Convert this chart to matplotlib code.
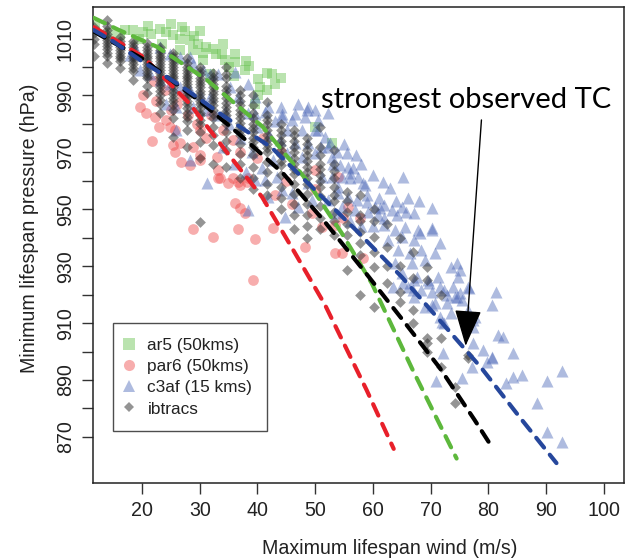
import matplotlib
matplotlib.use("Agg")
import matplotlib.pyplot as plt
from matplotlib.lines import Line2D

# ---------------- data ----------------
# ar5 (50kms) - green squares
ar5_v = [11.8, 16.2, 17.1, 18.4, 20.2, 21.0, 21.6, 23.1, 24.2, 25.0, 25.4, 26.6, 26.6, 27.5,
         28.3, 28.8, 29.0, 29.7, 30.5, 30.6, 31.1, 31.8, 32.3, 32.8, 33.8, 34.0, 34.4, 36.1,
         36.1, 37.8, 38.0, 40.1, 40.1, 42.5, 41.6, 39.5, 36.0, 49.9, 52.9, 43.0, 35.0, 23.5,
         19.5, 14.5, 41.6, 40.4, 38.5, 44.0, 27.0, 30.0]
ar5_p = [1014.5, 1011.3, 1013.0, 1013.1, 1012.4, 1014.5, 1011.7, 1013.4, 1012.4, 1015.0,
         1011.3, 1009.9, 1006.0, 1012.5, 1009.5, 1006.0, 1011.0, 1008.1, 1005.0, 1002.5,
         1007.1, 997.6, 1006.4, 1004.6, 1004.6, 1008.0, 1002.5, 1004.6, 1001.8, 999.0,
         1002.0, 995.8, 990.2, 997.6, 992.0, 987.0, 997.0, 979.0, 973.3, 994.0, 1000.0,
         1008.0, 1010.0, 1012.0, 998.0, 993.0, 1000.5, 996.0, 1014.0, 1012.5]

# par6 (50kms) - red circles
par6_v = [19.7, 20.2, 20.7, 21.7, 22.2, 22.5, 23.0, 24.2, 24.8, 25.0, 25.4, 25.7, 25.7, 26.6,
          26.7, 27.0, 28.3, 28.8, 28.8, 29.5, 30.0, 30.0, 31.0, 32.3, 33.0, 33.1, 33.5, 33.1,
          34.9, 35.7, 35.7, 36.1, 36.6, 36.6, 37.0, 37.0, 37.8, 38.3, 38.2, 39.2, 39.5, 40.0,
          42.7, 43.0, 45.0, 48.2, 49.4, 49.9, 51.1, 53.4, 53.4, 53.9, 54.6, 54.8, 55.6, 57.7,
          58.2, 22.0, 24.0, 26.0, 28.0, 30.0, 32.0, 34.0, 37.0, 41.0, 44.0, 46.0, 50.0]
par6_p = [986.0, 990.0, 983.9, 974.0, 982.5, 988.0, 979.0, 981.4, 979.0, 985.0, 972.6, 977.9,
          970.2, 973.3, 966.7, 990.0, 965.6, 971.9, 943.0, 980.0, 969.1, 967.4, 975.0, 940.3,
          968.4, 961.0, 961.0, 963.9, 959.3, 961.0, 974.4, 952.2, 959.6, 943.0, 950.5, 958.5,
          948.7, 961.0, 959.6, 925.2, 939.5, 968.0, 943.4, 955.0, 960.0, 936.7, 948.7, 963.9,
          943.8, 934.6, 944.4, 961.4, 934.6, 947.0, 950.8, 947.0, 932.8, 995.0, 992.0, 987.0,
          983.0, 978.0, 983.0, 978.0, 970.0, 975.0, 970.0, 952.0, 957.0]

# c3af (15 kms) - blue triangles
c3af_v = [53.7, 54.3, 55.6, 56.5, 54.6, 56.0, 57.4, 58.6, 61.7, 62.9, 65.2, 53.9, 55.6, 57.2,
          58.9, 60.3, 61.2, 62.0, 63.3, 65.0, 65.8, 67.2, 70.2, 56.9, 59.1, 60.8, 54.6, 64.1,
          62.0, 63.8, 65.5, 67.8, 70.2, 62.6, 65.0, 67.2, 64.3, 66.4, 68.4, 70.7, 63.8, 66.7,
          69.0, 73.6, 65.0, 67.6, 69.5, 71.2, 74.7, 76.4, 66.0, 68.4, 70.2, 72.4, 74.2, 70.7,
          72.9, 75.4, 67.2, 69.0, 73.6, 76.4, 71.9, 67.2,
          63.4, 65.2, 66.9, 69.8, 71.6, 72.8, 74.5, 73.8, 75.0, 81.4, 80.6, 70.3, 71.6, 72.4,
          77.3, 81.6, 82.5, 84.2, 79.0, 80.6, 77.1, 84.2, 85.9, 83.1, 92.8, 90.2, 71.0, 75.4,
          88.5, 90.1, 92.8, 72.1, 76.7, 77.6, 77.3, 77.3, 80.7, 79.7,
          33.0, 34.4, 38.3, 41.3, 44.2, 46.0, 48.2, 50.4, 52.2, 45.1, 47.7, 49.9, 51.7, 52.2,
          48.7, 46.5, 43.9, 52.9, 49.9, 47.7, 45.1, 42.7, 40.8, 39.6, 41.3, 43.4, 44.2, 41.8,
          46.0, 48.7, 51.1, 52.9, 49.4, 52.2, 53.4, 47.0, 44.7, 38.3,
          17.9, 19.0, 23.1, 24.8, 26.6, 28.3, 28.8, 30.6, 31.8, 19.7, 21.4, 23.1, 24.8, 26.6,
          28.3, 30.0, 31.8, 28.8, 31.1, 25.9, 24.2,
          33.1, 36.1, 38.3, 35.2, 36.6, 39.5, 41.8, 48.7, 46.5, 44.2, 39.5,
          50.4, 52.5, 55.5, 56.0, 58.2, 70.3, 68.1, 71.6, 74.5, 75.0, 48.5,
          31.2, 28.3, 25.9,
          35.0, 37.0, 39.0, 34.0, 36.0, 38.0, 40.0, 42.0, 43.0, 44.0, 47.0, 50.0, 51.0, 53.0,
          54.0, 55.0, 57.0, 58.0, 60.0, 59.0, 61.0, 56.0, 58.0, 60.0, 62.0, 64.0, 66.0, 68.0]
c3af_p = [970.1, 965.6, 964.9, 964.5, 961.4, 961.0, 961.4, 958.6, 959.6, 957.5, 961.4, 955.7,
          954.3, 953.3, 952.6, 950.8, 950.5, 951.5, 949.8, 950.8, 949.0, 948.7, 950.5, 949.8,
          949.0, 948.0, 950.8, 948.0,
          944.4, 942.6, 943.7, 942.6, 943.3, 939.3, 940.4, 939.3, 935.8, 934.7, 935.8, 934.7,
          931.1, 931.1, 932.2, 929.8, 927.6, 926.2, 925.2, 926.2, 926.2, 922.7, 922.7, 921.6,
          920.9, 921.6, 919.2, 917.0, 917.0, 918.1, 919.2, 915.8, 913.6, 914.6, 910.4, 925.2,
          922.7, 924.1, 921.6, 924.1, 922.7, 919.8, 919.2, 922.7, 920.6, 920.9, 916.4, 916.4,
          912.1, 910.0, 911.1, 905.8, 905.1, 899.5, 900.5, 897.7, 894.5, 891.0, 891.7, 888.9,
          893.3, 889.8, 889.8, 890.8, 881.9, 871.6, 868.1, 899.4, 922.4, 912.1, 908.6, 902.9,
          898.0, 896.2,
          983.1, 984.2, 983.8, 984.2, 982.5, 981.4, 982.5, 981.4, 983.8, 977.9, 977.9, 977.9,
          975.4, 971.9, 973.3, 973.3, 974.4, 968.4, 969.8, 968.4, 969.8, 967.3, 964.5, 960.3,
          960.3, 961.4, 956.8, 954.3, 955.7, 959.3, 961.4, 961.4, 953.3, 953.3, 948.7, 950.8,
          947.3, 949.8,
          1004.3, 1006.0, 1007.1, 1004.6, 1003.6, 1003.6, 1001.1, 999.0, 997.6, 999.0, 997.6,
          995.5, 994.0, 993.0, 992.0, 990.6, 989.5, 986.0, 985.0, 986.0, 987.0,
          997.6, 998.3, 994.0, 993.0, 989.5, 989.5, 986.0, 986.0, 983.5, 983.5, 983.5,
          977.9, 973.3, 969.8, 962.7, 959.3, 942.7, 941.6, 938.1, 931.1, 928.7, 985.0,
          959.2, 967.3, 977.9,
          980.0, 975.0, 970.0, 972.0, 966.0, 963.0, 979.0, 976.0, 981.0, 986.0, 987.0, 985.0,
          972.0, 966.0, 958.0, 973.0, 969.0, 966.0, 962.0, 955.0, 954.0, 946.0, 944.0, 944.0,
          947.0, 953.0, 954.0, 953.0]

# ibtracs - gray diamonds, by wind column
ib_cols_v = [11.6, 13.9, 16.2, 18.5, 20.8, 23.1, 25.4, 27.7, 30.0, 32.3, 34.6, 36.9, 39.2,
             41.6, 44.0, 46.3, 48.6, 50.9, 53.2, 55.5, 57.8, 60.1, 62.4, 64.7, 67.0, 69.4,
             71.8, 74.2, 76.5]
ib_cols_p = [
    [1014, 1012, 1010, 1008, 1004],
    [1016.5, 1014.5, 1013, 1011.5, 1010.5, 1009.5, 1008.5, 1007.5, 1006.5, 1005, 1004, 1001.5],
    [1010.5, 1009, 1008, 1007, 1006, 1005, 1004, 1003, 1002, 999.5],
    [1009, 1008, 1007, 1006, 1005, 1004, 1003, 1002, 1001, 999.5, 998.5, 995.5],
    [1008.5, 1007, 1006, 1005, 1004, 1003, 1002, 1001, 1000, 999, 998, 997, 996, 993.5, 991],
    [1007, 1006, 1005, 1004, 1003, 1002, 1001, 1000, 999, 998, 997, 996, 995, 994, 993, 991.5,
     990, 988.5, 987, 984],
    [1005, 1004, 1003, 1002, 1001, 1000, 999, 998, 997, 996, 995, 994, 993, 991.5, 990.5,
     989, 988, 986.5, 985, 982, 975.5],
    [1003, 1001.5, 1000, 999, 998, 997, 996, 995, 994, 993, 992, 990.5, 989.5, 988, 987, 985.5,
     984, 982.5, 981, 978, 972],
    [1000, 998.5, 997.5, 996, 995, 994, 993, 991.5, 990.5, 989, 988, 987, 985.5, 984, 983,
     981.5, 980, 977, 973.5, 968, 945.5],
    [998, 996.5, 995.5, 994, 993, 991.5, 990.5, 989, 988, 986.5, 985, 983.5, 982, 979, 976,
     972.5, 966],
    [1000, 997.5, 996, 993.5, 992, 990.5, 989, 987.5, 986, 984.5, 983, 981.5, 980, 977, 974,
     971, 965],
    [992, 990, 988, 986.5, 985, 983.5, 982, 980.5, 979, 977.5, 976, 973, 969.5, 966, 961],
    [990, 986.6, 984, 982, 980, 978.5, 977, 975, 973.5, 972, 969, 965, 961, 957],
    [987.7, 983, 981.5, 980, 978, 976, 974.5, 973, 971.5, 970, 966.5, 963, 959, 955],
    [980, 978, 976, 974, 972.5, 971, 969, 967, 965.5, 962, 958, 954, 950],
    [978, 976, 974, 972, 970, 968, 966, 964, 962.5, 959, 955.5, 952, 948, 943],
    [975, 973, 971, 969, 967, 965, 963, 961, 959, 955.5, 952, 948, 944, 940],
    [979, 972, 969, 966, 964, 962, 960, 958, 954.5, 951, 947, 943],
    [971, 966, 963.5, 961, 957.9, 955, 953, 949, 946, 941],
    [956, 953, 949, 945, 941, 928.7],
    [955, 948, 946, 942, 938, 934, 919.8],
    [950, 946, 940.2, 935, 929.8, 915.6],
    [945, 936.8, 930, 924.1],
    [940, 930, 921, 917.4],
    [935, 926, 914.6, 910],
    [929.8, 925.2, 904.8, 903, 899.8],
    [920, 904.8, 894.5],
    [887.5, 881.8],
    [898.8, 897.7],
]

# dashed fit curves
fit_red_v = [11.7, 20.2, 28.3, 34.4, 40.8, 46.5, 51.7, 58.9, 63.6]
fit_red_p = [1014.0, 1003.6, 987.0, 970.8, 954.3, 934.6, 916.4, 886.5, 865.8]
fit_green_v = [11.6, 16.0, 22.6, 31.2, 40.9, 48.5, 54.6, 59.8, 66.9, 74.5]
fit_green_p = [1017.3, 1013.0, 1007.1, 995.5, 979.0, 960.3, 941.6, 924.0, 893.5, 862.4]
fit_black_v = [11.6, 20.0, 30.0, 36.6, 44.4, 51.7, 58.6, 65.2, 71.6, 77.6, 80.6]
fit_black_p = [1012.5, 1003.0, 988.0, 976.8, 962.7, 945.5, 928.0, 911.0, 894.2, 876.0, 866.5]
fit_blue_v = [11.6, 15.0, 20.0, 27.0, 34.4, 42.5, 49.4, 57.4, 65.0, 72.0, 78.8, 85.4, 91.8]
fit_blue_p = [1013.0, 1009.0, 1002.0, 993.0, 982.4, 971.6, 957.9, 942.0, 926.2, 910.0, 894.2,
              877.0, 860.8]

legend_labels = ["ar5 (50kms)", "par6 (50kms)", "c3af (15 kms)", "ibtracs"]
x_ticks = [20, 30, 40, 50, 60, 70, 80, 90, 100]
y_ticks = [870, 880, 890, 900, 910, 920, 930, 940, 950, 960, 970, 980, 990, 1000, 1010]
y_tick_labels = ["870", "", "890", "", "910", "", "930", "", "950", "", "970", "", "990", "", "1010"]

# ---------------- figure ----------------
plt.rcParams["font.family"] = ["Liberation Sans", "DejaVu Sans"]
FS = 14.1
LFS = 12.4
fig = plt.figure(figsize=(6.25, 5.59), dpi=100)
ax = fig.add_axes([93 / 625, 76 / 559, 531 / 625, 476 / 559])

c_green = "#66c24f"
c_red = "#ef4b4b"
c_blue = "#4d68b8"
c_black = "#2a2a2a"

ax.scatter(ar5_v, ar5_p, marker="s", s=55, color=c_green, alpha=0.45, linewidths=0, zorder=2)
ax.scatter(par6_v, par6_p, marker="o", s=60, color=c_red, alpha=0.45, linewidths=0, zorder=3)
ax.scatter(c3af_v, c3af_p, marker="^", s=75, color=c_blue, alpha=0.45, linewidths=0, zorder=4)
ib_v = [v for v, col in zip(ib_cols_v, ib_cols_p) for _ in col]
ib_p = [p for col in ib_cols_p for p in col]
ax.scatter(ib_v, ib_p, marker="D", s=30, color=c_black, alpha=0.5, linewidths=0, zorder=5)

dash = (0, (3.0, 2.2))
for v, p, c in [(fit_red_v, fit_red_p, "#e8202a"), (fit_green_v, fit_green_p, "#5db83c"),
                (fit_black_v, fit_black_p, "#000000"), (fit_blue_v, fit_blue_p, "#26479c")]:
    ax.plot(v, p, color=c, lw=3.0, linestyle=dash, dash_capstyle="round", zorder=6)

ax.set_xlim(11.5, 103.5)
ax.set_ylim(853.8, 1021.1)
ax.set_xticks(x_ticks)
ax.set_xticklabels([str(t) for t in x_ticks])
ax.set_yticks(y_ticks)
ax.set_yticklabels(y_tick_labels, rotation=90, va="center")
ax.tick_params(axis="both", direction="out", length=8, width=1, labelsize=FS, pad=5,
               color="#333333", labelcolor="#222222")
for s in ax.spines.values():
    s.set_linewidth(1.1)
    s.set_color("#222222")

fig.text(390 / 625, 1 - 548 / 559, "Maximum lifespan wind (m/s)", ha="center", va="center",
         fontsize=FS, color="#222222")
fig.text(30 / 625, 1 - 228 / 559, "Minimum lifespan pressure (hPa)", ha="center", va="center",
         rotation=90, fontsize=FS, color="#222222")

handles = [
    Line2D([], [], marker="s", ls="none", color=c_green, alpha=0.45, markersize=8, markeredgewidth=0),
    Line2D([], [], marker="o", ls="none", color=c_red, alpha=0.45, markersize=8, markeredgewidth=0),
    Line2D([], [], marker="^", ls="none", color=c_blue, alpha=0.45, markersize=9, markeredgewidth=0),
    Line2D([], [], marker="D", ls="none", color=c_black, alpha=0.5, markersize=5.5, markeredgewidth=0),
]
leg = ax.legend(handles, legend_labels, loc="upper left", bbox_to_anchor=(0.0377, 0.336),
                fontsize=LFS, frameon=True, fancybox=False, edgecolor="#222222",
                borderpad=0.85, labelspacing=0.36, handlelength=0.1, handletextpad=1.05,
                borderaxespad=0)
leg.get_frame().set_linewidth(1.0)
leg.set_zorder(10)
for t in leg.get_texts():
    t.set_color("#222222")

# annotation
ax.text(76.2, 988.5, "strongest observed TC", ha="center", va="center", fontsize=21,
        family=["Lato", "DejaVu Sans"], color="black", zorder=12)
ax.annotate("", xy=(76.06, 902.0), xytext=(78.8, 981.4),
            arrowprops=dict(arrowstyle="-|>,head_length=2.3,head_width=0.85", mutation_scale=10,
                            color="black", lw=1.0, shrinkA=0, shrinkB=0), zorder=12)

fig.savefig("out.png", dpi=100)
